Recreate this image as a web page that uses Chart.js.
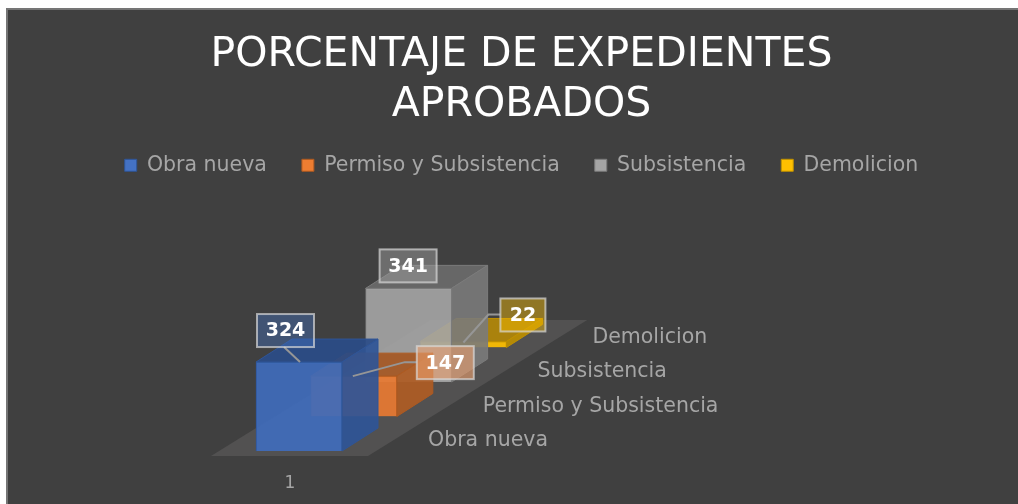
<!DOCTYPE html>
<html>
<head>
<meta charset="utf-8">
<script src="https://cdn.jsdelivr.net/npm/chart.js@4"></script>
<style>
  html, body { margin: 0; background: #fff; overflow: hidden; }
  #frame { position: absolute; left: 6px; top: 8px; width: 1012px; height: 496px; background: #404040; }
  #frame:before { content: ""; position: absolute; left: 0; top: 0; right: 0; bottom: 0; border-left: 2px solid #757575; border-top: 2px solid #757575; }
  #chart { filter: blur(0.4px); }
</style>
</head>
<body>
<div id="frame"><canvas id="chart" width="1012" height="496" aria-label="3D bar chart"></canvas></div>
<script>
const titleLines = ['PORCENTAJE DE EXPEDIENTES', 'APROBADOS'];
const categories = ['1'];
const seriesNames = ['Obra nueva', 'Permiso y Subsistencia', 'Subsistencia', 'Demolicion'];
const seriesValues = [324, 147, 341, 22];

// front, side, top, edge colours per series
const frontColours = ['rgba(64,108,186,0.93)', 'rgba(232,122,50,0.92)', 'rgba(165,165,165,0.9)', 'rgba(255,192,0,0.92)'];
const sideColours = ['rgba(47,85,151,0.92)', 'rgba(175,92,36,0.92)', 'rgba(122,122,122,0.9)', 'rgba(190,143,0,0.92)'];
const topColours = ['rgba(42,76,136,0.92)', 'rgba(165,88,36,0.92)', 'rgba(108,108,108,0.9)', 'rgba(178,135,8,0.92)'];
const edgeColours = ['#2f5597', '#ae5a21', '#7b7b7b', '#bf9000'];
const legendColours = ['#4472c4', '#ed7d31', '#a5a5a5', '#ffc000'];
const labelFills = ['rgba(68,114,196,0.4)', 'rgba(237,160,110,0.6)', 'rgba(165,165,165,0.45)', 'rgba(255,192,0,0.42)'];

// depth step between series rows and depth of one bar, in pixels
const stepX = 54.8, stepY = -34.5;
const depthX = 36, depthY = -23;
// label box offset from top-left of the bar front face, leader points relative to the box
const labelOffsets = [[1, -48], [106, -30], [14, -39], [80, -43]];
const leaders = [
  [[27, 33], [43, 48]],
  [[0, 16], [-12, 16], [-64, 30]],
  [],
  [[0, 16], [-12, 16], [-37, 44]]
];

const bar3d = {
  id: 'bar3d',
  beforeDatasetsDraw(chart) {
    const {ctx} = chart;
    const el = chart.getDatasetMeta(0).data[0];
    const base = el.base + 5;
    const l = el.x - 88, r = el.x + 69;
    ctx.save();
    ctx.fillStyle = '#525151';
    ctx.beginPath();
    ctx.moveTo(l, base);
    ctx.lineTo(r, base);
    ctx.lineTo(r + stepX * 4, base - 136);
    ctx.lineTo(l + stepX * 4, base - 136);
    ctx.closePath();
    ctx.fill();
    // series names along the depth axis
    ctx.fillStyle = '#a6a6a6';
    ctx.font = '20.5px "DejaVu Sans"';
    ctx.textBaseline = 'middle';
    seriesNames.forEach((name, i) => {
      ctx.fillText(name, el.x + 129 + stepX * i, el.base - 10 + stepY * i);
    });
    ctx.restore();
  },
  beforeDatasetDraw(chart, args) {
    const {ctx} = chart;
    const i = args.index;
    const el = args.meta.data[0];
    const left = el.x - el.width / 2, right = el.x + el.width / 2;
    ctx.save();
    ctx.translate(stepX * i, stepY * i);
    ctx.lineWidth = 1;
    ctx.strokeStyle = edgeColours[i];
    // top face
    ctx.fillStyle = topColours[i];
    ctx.beginPath();
    ctx.moveTo(left, el.y);
    ctx.lineTo(right, el.y);
    ctx.lineTo(right + depthX, el.y + depthY);
    ctx.lineTo(left + depthX, el.y + depthY);
    ctx.closePath();
    ctx.fill();
    ctx.stroke();
    // side face
    ctx.fillStyle = sideColours[i];
    ctx.beginPath();
    ctx.moveTo(right, el.y);
    ctx.lineTo(right + depthX, el.y + depthY);
    ctx.lineTo(right + depthX, el.base + depthY);
    ctx.lineTo(right, el.base);
    ctx.closePath();
    ctx.fill();
    ctx.stroke();
  },
  afterDatasetDraw(chart) {
    chart.ctx.restore();
  },
  afterDatasetsDraw(chart) {
    const {ctx} = chart;
    seriesValues.forEach((value, i) => {
      const el = chart.getDatasetMeta(i).data[0];
      const bx = el.x - el.width / 2 + stepX * i + labelOffsets[i][0];
      const by = el.y + stepY * i + labelOffsets[i][1];
      const bw = i === 3 ? 45 : 57, bh = 33;
      ctx.save();
      if (leaders[i].length) {
        ctx.strokeStyle = '#969696';
        ctx.lineWidth = 2;
        ctx.beginPath();
        leaders[i].forEach((p, n) => {
          if (n === 0) ctx.moveTo(bx + p[0], by + p[1]);
          else ctx.lineTo(bx + p[0], by + p[1]);
        });
        ctx.stroke();
      }
      ctx.fillStyle = labelFills[i];
      ctx.fillRect(bx, by, bw, bh);
      ctx.strokeStyle = 'rgba(217,217,217,0.7)';
      ctx.lineWidth = 2;
      ctx.strokeRect(bx, by, bw, bh);
      ctx.fillStyle = '#fff';
      ctx.font = 'bold 19px "DejaVu Sans"';
      ctx.textAlign = 'center';
      ctx.textBaseline = 'middle';
      ctx.fillText(String(value), bx + bw / 2, by + bh / 2 + 1);
      ctx.restore();
    });
  }
};

new Chart(document.getElementById('chart'), {
  type: 'bar',
  data: {
    labels: categories,
    datasets: seriesNames.map((name, i) => ({
      label: name,
      data: [seriesValues[i]],
      backgroundColor: frontColours[i],
      borderColor: edgeColours[i],
      borderWidth: 1,
      grouped: false,
      barThickness: 86
    }))
  },
  plugins: [bar3d],
  options: {
    responsive: false,
    animation: false,
    plugins: {
      tooltip: {enabled: false},
      title: {
        display: true,
        text: titleLines,
        color: '#fff',
        font: {family: '"DejaVu Sans"', size: 41, weight: 'normal', lineHeight: 1.22},
        padding: {top: 22, bottom: -10}
      },
      legend: {
        display: true,
        position: 'top',
        labels: {
          color: '#a6a6a6',
          font: {family: '"DejaVu Sans"', size: 20.5},
          boxWidth: 12,
          boxHeight: 12,
          padding: 35,
          generateLabels: (chart) => seriesNames.map((name, i) => ({
            text: name,
            fillStyle: legendColours[i],
            strokeStyle: edgeColours[i],
            lineWidth: 1,
            fontColor: '#a6a6a6',
            datasetIndex: i
          }))
        }
      }
    },
    layout: {padding: {left: 19}},
    scales: {
      x: {
        grid: {display: false},
        border: {display: false},
        ticks: {color: '#a6a6a6', font: {family: '"DejaVu Sans"', size: 17}, labelOffset: -9, padding: 14},
        afterFit: (scale) => { scale.height = 53; }
      },
      y: {
        min: 0,
        max: 967,
        grid: {display: false},
        border: {display: false},
        ticks: {display: false},
        afterFit: (scale) => { scale.width = 186; }
      },
      yRight: {
        position: 'right',
        min: 0,
        max: 967,
        grid: {display: false},
        border: {display: false},
        ticks: {display: false},
        afterFit: (scale) => { scale.width = 631; }
      }
    }
  }
});
</script>
</body>
</html>
